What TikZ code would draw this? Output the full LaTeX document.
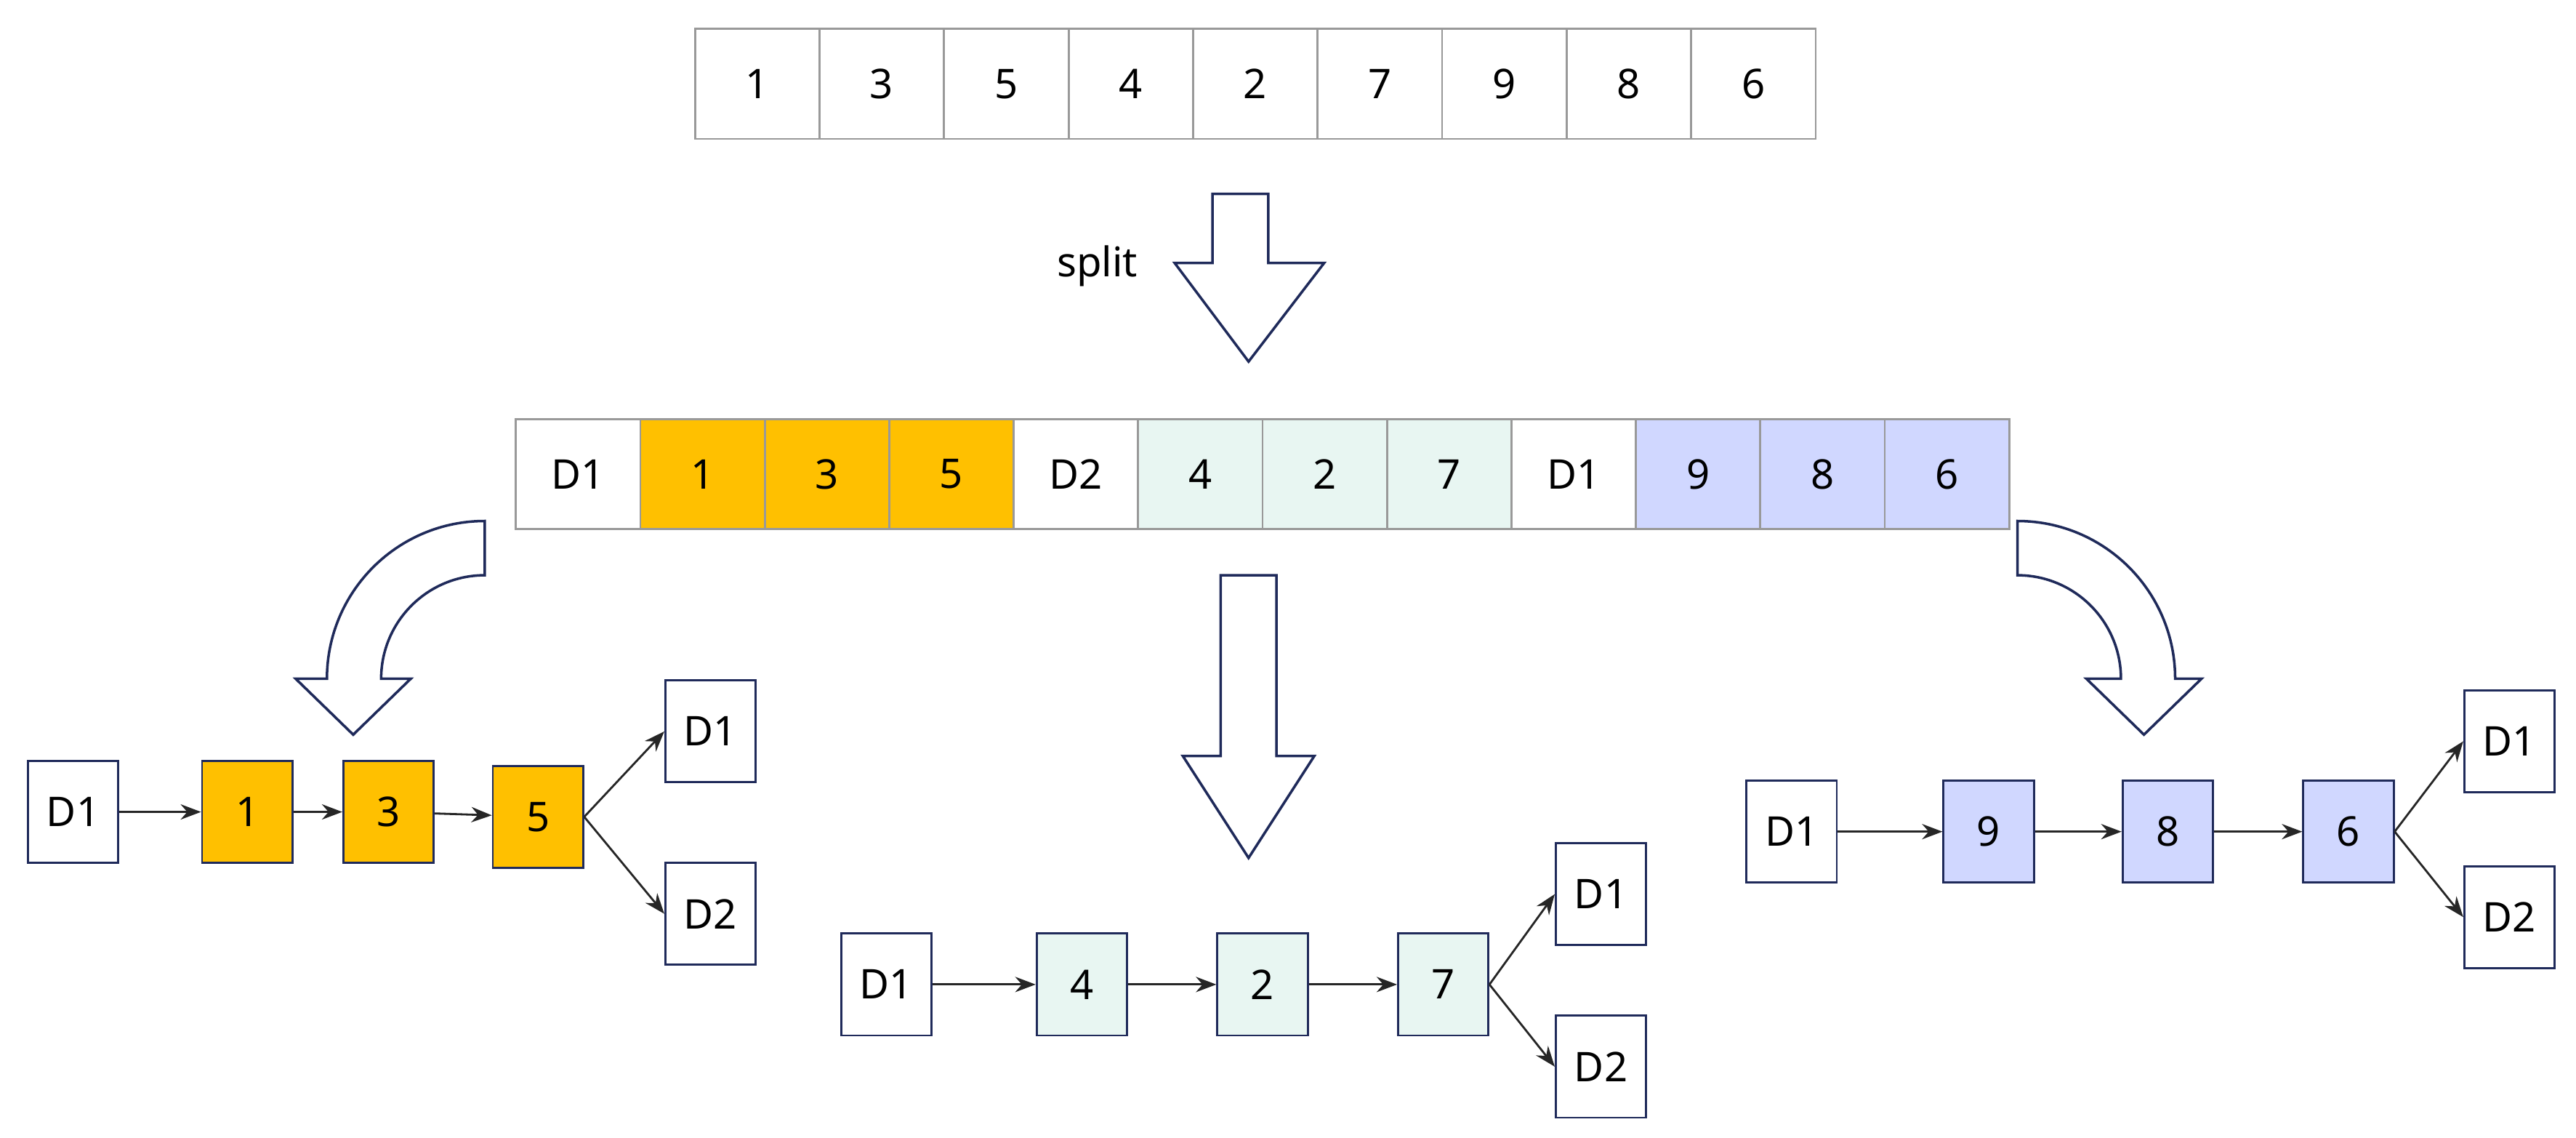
\documentclass[tikz,border=0pt]{standalone}
\usepackage{fontspec}
\setmainfont{Noto Sans}
\usetikzlibrary{arrows.meta}
\definecolor{nav}{HTML}{1F2A5A}
\definecolor{org}{HTML}{FFC000}
\definecolor{grn}{HTML}{E8F6F2}
\definecolor{lav}{HTML}{D0D7FF}
\begin{document}
\begin{tikzpicture}[x=0.0226cm,y=-0.0226cm,
 cell/.style={draw=gray!80,line width=0.8pt,minimum width=75.75*0.0226cm,minimum height=67*0.0226cm,inner sep=0,font=\fontsize{16}{19}\selectfont},
 bx/.style={draw=nav,line width=0.8pt,minimum width=55*0.0226cm,minimum height=62*0.0226cm,inner sep=0,font=\fontsize{16}{19}\selectfont},
 ed/.style={-{Stealth[length=8pt,width=6pt]},line width=0.8pt,black!85},
 fat/.style={draw=nav,line width=1pt,fill=white,line join=miter}]
\useasboundingbox (0,0) rectangle (1568,692);
% top array
\foreach \v [count=\i] in {1,3,5,4,2,7,9,8,6}
  \node[cell] (t\i) at ({423+75.8*(\i-0.5)},51) {\v};
% split arrow
\draw[fat] (738,118)--(772,118)--(772,160)--(806,160)--(760,220)--(715,160)--(738,160)--cycle;
\node[font=\fontsize{16}{19}\selectfont] (sp) at (668,162) {split};
% second array
\foreach \v/\c [count=\i] in {D1/white,1/org,3/org,5/org,D2/white,4/grn,2/grn,7/grn,D1/white,9/lav,8/lav,6/lav}
  \node[cell,fill=\c] (m\i) at ({314+75.75*(\i-0.5)},288.5) {\v};
% curved arrows
\draw[fat] (295,317) arc[start angle=270,end angle=180,radius=96] -- (180,413) -- (215,447) -- (250,413) -- (232,413) arc[start angle=180,end angle=270,radius=63] -- cycle;
\draw[fat] (1228,317) arc[start angle=270,end angle=360,radius=96] -- (1340,413) -- (1305,447) -- (1270,413) -- (1291,413) arc[start angle=360,end angle=270,radius=63] -- cycle;
\draw[fat] (743,350)--(777,350)--(777,460)--(800,460)--(760,522)--(720,460)--(743,460)--cycle;
% left chain
\node[bx] (a0) at (44.5,494) {D1};
\node[bx,fill=org] (a1) at (150.5,494) {1};
\node[bx,fill=org] (a2) at (236.5,494) {3};
\node[bx,fill=org] (a3) at (327.5,497) {5};
\node[bx] (a4) at (432.5,445) {D1};
\node[bx] (a5) at (432.5,556) {D2};
\draw[ed] (a0)--(a1); \draw[ed] (a1)--(a2); \draw[ed] (a2)--(a3);
\draw[ed] (a3.east)--(a4.west); \draw[ed] (a3.east)--(a5.west);
% middle chain
\node[bx] (b0) at (539.5,599) {D1};
\node[bx,fill=grn] (b1) at (658.5,599) {4};
\node[bx,fill=grn] (b2) at (768.5,599) {2};
\node[bx,fill=grn] (b3) at (878.5,599) {7};
\node[bx] (b4) at (974.5,544) {D1};
\node[bx] (b5) at (974.5,649) {D2};
\draw[ed] (b0)--(b1); \draw[ed] (b1)--(b2); \draw[ed] (b2)--(b3);
\draw[ed] (b3.east)--(b4.west); \draw[ed] (b3.east)--(b5.west);
% right chain
\node[bx] (c0) at (1090.5,506) {D1};
\node[bx,fill=lav] (c1) at (1210.5,506) {9};
\node[bx,fill=lav] (c2) at (1319.5,506) {8};
\node[bx,fill=lav] (c3) at (1429.5,506) {6};
\node[bx] (c4) at (1527.5,451) {D1};
\node[bx] (c5) at (1527.5,558) {D2};
\draw[ed] (c0)--(c1); \draw[ed] (c1)--(c2); \draw[ed] (c2)--(c3);
\draw[ed] (c3.east)--(c4.west); \draw[ed] (c3.east)--(c5.west);
\end{tikzpicture}
\end{document}
